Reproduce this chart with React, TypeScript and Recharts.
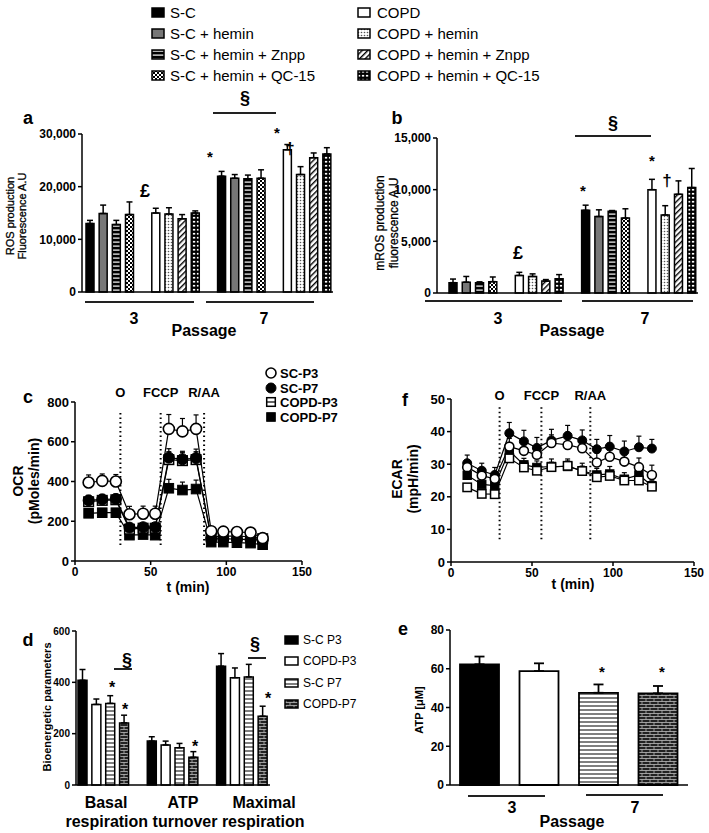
import React from 'react'
import {
    Bar,
    BarChart,
    Cell,
    ErrorBar,
    Line,
    LineChart,
    ReferenceLine,
    XAxis,
    YAxis,
} from 'recharts'

const FONT = "'Liberation Sans', Arial, Helvetica, sans-serif"

// ---------- panels a / b : ROS and mROS per treatment ----------
const treatments = [
    'S-C',
    'S-C + hemin',
    'S-C + hemin + Znpp',
    'S-C + hemin + QC-15',
    'COPD',
    'COPD + hemin',
    'COPD + hemin + Znpp',
    'COPD + hemin + QC-15',
]
const treatmentFill = [
    '#000',
    '#777',
    'url(#pScZnpp)',
    'url(#pScQc)',
    '#fff',
    'url(#pCopdHemin)',
    'url(#pCopdZnpp)',
    'url(#pCopdQc)',
]

const rosP3 = [13000, 14900, 12800, 14700, 15000, 14800, 13900, 15000]
const rosP3Err = [600, 1600, 800, 2400, 900, 1200, 800, 400]
const rosP7 = [22000, 21600, 21500, 21600, 27000, 22300, 25500, 26200]
const rosP7Err = [900, 700, 700, 1600, 1000, 1500, 900, 1200]

const mrosP3 = [1000, 1050, 1000, 1100, 1700, 1600, 1150, 1380]
const mrosP3Err = [350, 550, 80, 450, 300, 250, 150, 400]
const mrosP7 = [8000, 7400, 7900, 7250, 10000, 7550, 9550, 10200]
const mrosP7Err = [500, 650, 80, 900, 1000, 900, 1300, 1850]

// ---------- panels c / f : Seahorse traces ----------
const tOcr = [9, 18, 27, 36, 45, 53, 62, 71, 80, 90, 98, 107, 116, 124]
const ocrScP3 = [395, 403, 400, 235, 238, 238, 665, 652, 665, 150, 148, 146, 143, 115]
const ocrScP3Err = [38, 35, 35, 40, 38, 38, 72, 65, 70, 12, 10, 10, 10, 10]
const ocrScP7 = [305, 310, 312, 168, 170, 170, 520, 512, 518, 112, 112, 110, 108, 105]
const ocrScP7Err = [25, 25, 25, 15, 15, 15, 45, 40, 45, 10, 10, 10, 10, 10]
const ocrCopdP3 = [298, 305, 308, 160, 165, 165, 510, 505, 510, 122, 125, 125, 122, 112]
const ocrCopdP3Err = [20, 20, 20, 12, 12, 12, 40, 40, 40, 10, 10, 10, 10, 10]
const ocrCopdP7 = [240, 243, 243, 130, 133, 130, 366, 357, 362, 95, 95, 92, 90, 82]
const ocrCopdP7Err = [15, 15, 15, 12, 12, 12, 45, 40, 45, 8, 8, 8, 8, 8]

const tEcar = [10, 19, 27, 36, 45, 53, 62, 72, 81, 90, 98, 107, 116, 124]
const ecarScP7 = [30.3, 28, 26.7, 39.5, 37, 35, 37.3, 38.7, 37.3, 34.6, 35.4, 33.9, 35.2, 34.8]
const ecarScP7Err = [2.5, 2.3, 2.3, 3.3, 3.4, 3.2, 3.4, 3.2, 3.2, 3, 3.4, 3.2, 3.4, 2.8]
const ecarScP3 = [29.1, 26.5, 25.5, 35.4, 34.1, 32.9, 36.5, 35.9, 34.9, 30.5, 32.3, 30.8, 29.1, 26.7]
const ecarScP3Err = [2, 2, 2, 2.5, 2.5, 2.5, 2.5, 2.5, 2.5, 3, 3, 3, 2.8, 3]
const ecarCopdP7 = [26.6, 23.8, 23.4, 34.1, 29.8, 29.0, 29.3, 29.3, 28.0, 26.7, 27.0, 25.4, 26.7, 23.4]
const ecarCopdP7Err = [2, 2, 2, 2, 2, 2, 2.3, 2.3, 2.3, 2, 2.3, 2, 2, 1.5]
const ecarCopdP3 = [22.9, 20.9, 20.8, 31.8, 29.0, 28.0, 29.1, 29.5, 27.9, 26.0, 26.4, 25.0, 25.0, 23.1]
const ecarCopdP3Err = [1, 1, 1, 1.5, 1.5, 1.5, 1.5, 1.5, 1.5, 1.5, 1.5, 1.5, 1.5, 1]

// ---------- panel d : bioenergetic parameters ----------
const params = ['Basal respiration', 'ATP turnover', 'Maximal respiration']
const cellGroups = ['S-C P3', 'COPD-P3', 'S-C P7', 'COPD-P7']
const groupFill = ['#000', '#fff', 'url(#pHStripe)', 'url(#pBrick)']
const bioScP3 = [408, 171, 463]
const bioScP3Err = [42, 17, 49]
const bioCopdP3 = [314, 156, 418]
const bioCopdP3Err = [21, 15, 38]
const bioScP7 = [318, 145, 421]
const bioScP7Err = [30, 17, 49]
const bioCopdP7 = [242, 108, 268]
const bioCopdP7Err = [30, 22, 39]

// ---------- panel e : ATP ----------
const atp = [62.3, 58.8, 47.6, 47.3]
const atpErr = [4, 4, 4.3, 3.8]

// ---------- tables ----------
type SlotRow = { slot: string; g: number; v: number | null; e: number[] }

function rosRows(p3: number[], p3e: number[], p7: number[], p7e: number[]): SlotRow[] {
    const rows: SlotRow[] = []
    const add = (vals: number[], errs: number[], from: number, passage: number) => {
        for (let i = from; i < from + 4; i++) {
            rows.push({ slot: `P${passage} ${treatments[i]}`, g: i, v: vals[i], e: [0, errs[i]] })
        }
    }
    const gap = (n: number) => rows.push({ slot: `gap${n}`, g: -1, v: null, e: [0, 0] })
    add(p3, p3e, 0, 3)
    gap(1)
    add(p3, p3e, 4, 3)
    gap(2)
    add(p7, p7e, 0, 7)
    gap(3)
    add(p7, p7e, 4, 7)
    return rows
}

const rowsA = rosRows(rosP3, rosP3Err, rosP7, rosP7Err)
const rowsB = rosRows(mrosP3, mrosP3Err, mrosP7, mrosP7Err)

const ocrRows = tOcr.map((t, i) => ({
    t,
    scP3: ocrScP3[i], scP3e: [0, ocrScP3Err[i]],
    scP7: ocrScP7[i], scP7e: [0, ocrScP7Err[i]],
    copdP3: ocrCopdP3[i], copdP3e: [0, ocrCopdP3Err[i]],
    copdP7: ocrCopdP7[i], copdP7e: [0, ocrCopdP7Err[i]],
}))

const ecarRows = tEcar.map((t, i) => ({
    t,
    scP3: ecarScP3[i], scP3e: [0, ecarScP3Err[i]],
    scP7: ecarScP7[i], scP7e: [0, ecarScP7Err[i]],
    copdP3: ecarCopdP3[i], copdP3e: [0, ecarCopdP3Err[i]],
    copdP7: ecarCopdP7[i], copdP7e: [0, ecarCopdP7Err[i]],
}))

const bioSeries = [
    [bioScP3, bioScP3Err],
    [bioCopdP3, bioCopdP3Err],
    [bioScP7, bioScP7Err],
    [bioCopdP7, bioCopdP7Err],
]
const bioRows: SlotRow[] = []
params.forEach((p, pi) => {
    if (pi > 0) bioRows.push({ slot: `gap${pi}`, g: -1, v: null, e: [0, 0] })
    bioSeries.forEach(([vals, errs], gi) => {
        bioRows.push({ slot: `${p} ${cellGroups[gi]}`, g: gi, v: vals[pi], e: [0, errs[pi]] })
    })
})

const atpRows = cellGroups.map((c, i) => ({ slot: c, g: i, v: atp[i], e: [0, atpErr[i]] }))

// ---------- helpers ----------
const axisStyle = { stroke: '#000', strokeWidth: 1.5 }

function Txt({ x, y, size = 12, bold = false, anchor = 'middle', children }: any) {
    const tx = anchor === 'middle' ? '-50%' : anchor === 'end' ? '-100%' : '0'
    return (
        <div
            style={{
                position: 'absolute',
                left: x,
                top: y,
                transform: `translate(${tx},-50%)`,
                fontSize: size,
                fontWeight: bold ? 700 : 400,
                whiteSpace: 'nowrap',
                lineHeight: 1,
            }}
        >
            {children}
        </div>
    )
}

// rotated axis titles drawn as svg text
function VTxt({ x, y, lines, size = 12, bold = false, gap = 1.15 }: any) {
    const n = lines.length
    return (
        <svg width={80} height={240} style={{ position: 'absolute', left: x - 40, top: y - 120, overflow: 'visible' }}>
            <text
                transform="translate(40,120) rotate(-90)"
                textAnchor="middle"
                fontSize={size}
                fontWeight={bold ? 700 : 400}
                fill="#000"
                stroke="#000"
                strokeWidth={bold ? 0 : 0.3}
            >
                {lines.map((l: string, i: number) => (
                    <tspan key={l} x={0} y={(i - (n - 1) / 2) * size * gap + size * 0.35}>
                        {l}
                    </tspan>
                ))}
            </text>
        </svg>
    )
}

function HLine({ x1, x2, y, w = 1.5 }: any) {
    return (
        <div style={{ position: 'absolute', left: x1, top: y - w / 2, width: x2 - x1, height: w, background: '#222' }} />
    )
}

function Swatch({ fill, w = 12, h = 9 }: any) {
    return (
        <svg width={w + 2} height={h + 2} style={{ display: 'block' }}>
            <rect x={1} y={1} width={w} height={h} fill={fill} stroke="#000" strokeWidth={1.5} />
        </svg>
    )
}

function Marker({ kind, cx, cy, r = 4.5 }: any) {
    if (kind === 'openCircle')
        return <circle cx={cx} cy={cy} r={r} fill="#fff" stroke="#000" strokeWidth={1.6} />
    if (kind === 'filledCircle') return <circle cx={cx} cy={cy} r={r} fill="#000" stroke="#000" strokeWidth={1} />
    if (kind === 'filledSquare')
        return <rect x={cx - r} y={cy - r} width={2 * r} height={2 * r} fill="#000" stroke="#000" strokeWidth={1} />
    if (kind === 'lineSquare')
        return (
            <g>
                <rect x={cx - r} y={cy - r} width={2 * r} height={2 * r} fill="#fff" stroke="#000" strokeWidth={1.5} />
                <line x1={cx - r} x2={cx + r} y1={cy} y2={cy} stroke="#000" strokeWidth={1.2} />
            </g>
        )
    return <rect x={cx - r} y={cy - r} width={2 * r} height={2 * r} fill="#fff" stroke="#000" strokeWidth={1.5} />
}

const dotOf = (kind: string, r = 4.5) => (p: any) => {
    const key = `${kind}-${p.index}`
    if (p.cx == null || p.cy == null) return <g key={key} />
    return (
        <g key={key}>
            <Marker kind={kind} cx={p.cx} cy={p.cy} r={r} />
        </g>
    )
}

function Patterns() {
    return (
        <svg width={0} height={0} style={{ position: 'absolute' }}>
            <defs>
                <pattern id="pScZnpp" width={4} height={4} patternUnits="userSpaceOnUse">
                    <rect width={4} height={4} fill="#000" />
                    <rect y={1.5} width={4} height={1.2} fill="#fff" />
                </pattern>
                <pattern id="pScQc" width={4} height={4} patternUnits="userSpaceOnUse">
                    <rect width={4} height={4} fill="#fff" />
                    <rect width={2} height={2} fill="#000" />
                    <rect x={2} y={2} width={2} height={2} fill="#000" />
                </pattern>
                <pattern id="pCopdHemin" width={3} height={3} patternUnits="userSpaceOnUse">
                    <rect width={3} height={3} fill="#fff" />
                    <circle cx={1.5} cy={1.5} r={0.8} fill="#555" />
                </pattern>
                <pattern id="pCopdZnpp" width={4} height={4} patternUnits="userSpaceOnUse" patternTransform="rotate(45)">
                    <rect width={4} height={4} fill="#fff" />
                    <rect width={1.4} height={4} fill="#000" />
                </pattern>
                <pattern id="pCopdQc" width={4} height={4} patternUnits="userSpaceOnUse">
                    <rect width={4} height={4} fill="#000" />
                    <rect x={0.9} y={0.9} width={2.3} height={1.7} fill="#fff" />
                </pattern>
                <pattern id="pHStripe" width={4} height={4} patternUnits="userSpaceOnUse">
                    <rect width={4} height={4} fill="#fff" />
                    <rect y={1.5} width={4} height={1} fill="#000" />
                </pattern>
                <pattern id="pBrick" width={8} height={6} patternUnits="userSpaceOnUse">
                    <rect width={8} height={6} fill="#222" />
                    <path d="M0 0.5H8 M0 3.5H8 M2 0.5V3.5 M6 3.5V6" stroke="#bbb" strokeWidth={0.8} fill="none" />
                </pattern>
            </defs>
        </svg>
    )
}

function RosChart({ rows, max, ticks, left, top, width, height, padLeft }: any) {
    return (
        <div style={{ position: 'absolute', left, top }}>
            <BarChart
                width={width}
                height={height}
                data={rows}
                margin={{ top: 10, right: 5, left: 0, bottom: 8 }}
                barCategoryGap={0}
            >
                <XAxis
                    dataKey="slot"
                    tick={false}
                    tickLine={false}
                    axisLine={axisStyle}
                    height={2}
                    interval={0}
                    padding={{ left: padLeft, right: 0 }}
                />
                <YAxis
                    domain={[0, max]}
                    ticks={ticks}
                    width={50}
                    tickSize={4}
                    interval={0}
                    tickFormatter={(v: number) => v.toLocaleString('en-US')}
                    tick={{ fill: '#000', fontSize: 12, fontWeight: 700 }}
                    axisLine={axisStyle}
                    tickLine={axisStyle}
                />
                <Bar dataKey="v" barSize={8} stroke="#000" strokeWidth={1.5} isAnimationActive={false}>
                    {rows.map((r: SlotRow) => (
                        <Cell key={r.slot} fill={r.g >= 0 ? treatmentFill[r.g] : 'none'} />
                    ))}
                    <ErrorBar dataKey="e" width={3} stroke="#000" strokeWidth={1.5} direction="y" />
                </Bar>
            </BarChart>
        </div>
    )
}

function TraceChart({ rows, left, top, width, height, yMax, yTicks, segs, kinds, yWidth, circleR, squareR, labelOffset }: any) {
    const order = ['copdP7', 'copdP3', 'scP7', 'scP3']
    return (
        <div style={{ position: 'absolute', left, top }}>
            <LineChart width={width} height={height} data={rows} margin={{ top: 30, right: 10, left: 0, bottom: 0 }}>
                <XAxis
                    dataKey="t"
                    type="number"
                    domain={[0, 150]}
                    ticks={[0, 50, 100, 150]}
                    tickSize={4}
                    height={25}
                    tick={{ fill: '#000', fontSize: 12, fontWeight: 700 }}
                    axisLine={axisStyle}
                    tickLine={axisStyle}
                />
                <YAxis
                    domain={[0, yMax]}
                    ticks={yTicks}
                    width={yWidth}
                    tickSize={4}
                    interval={0}
                    tick={{ fill: '#000', fontSize: 13, fontWeight: 700 }}
                    axisLine={axisStyle}
                    tickLine={axisStyle}
                />
                {segs.map((s: any) => (
                    <ReferenceLine
                        key={s.label}
                        segment={[{ x: s.t, y: s.y0 }, { x: s.t, y: s.y1 }]}
                        stroke="#000"
                        strokeWidth={2}
                        strokeDasharray="1.5 3"
                        label={{ value: s.label, position: 'top', offset: labelOffset, fill: '#000', fontSize: 13, fontWeight: 700 }}
                    />
                ))}
                {order.map(k => (
                    <Line
                        key={k}
                        dataKey={k}
                        stroke="#000"
                        strokeWidth={1.2}
                        dot={dotOf(kinds[k], kinds[k].includes('Circle') ? circleR : squareR)}
                        activeDot={false}
                        isAnimationActive={false}
                    >
                        <ErrorBar dataKey={`${k}e`} width={2.5} stroke="#000" strokeWidth={1.2} direction="y" />
                    </Line>
                ))}
            </LineChart>
        </div>
    )
}

const topLegendRows = [0, 1, 2, 3]

export default function App() {
    return (
        <div
            style={{
                position: 'absolute',
                left: 0,
                top: 0,
                width: 709,
                height: 833,
                background: '#fff',
                fontFamily: FONT,
                color: '#000',
                overflow: 'hidden',
            }}
        >
            <Patterns />

            {/* top legend */}
            {topLegendRows.map(i => (
                <React.Fragment key={i}>
                    <div style={{ position: 'absolute', left: 151, top: 7 + i * 21 }}>
                        <Swatch fill={treatmentFill[i]} />
                    </div>
                    <Txt x={170} y={12 + i * 21} size={15} anchor="start">
                        {treatments[i]}
                    </Txt>
                    <div style={{ position: 'absolute', left: 357, top: 7 + i * 21 }}>
                        <Swatch fill={treatmentFill[i + 4]} />
                    </div>
                    <Txt x={377} y={12 + i * 21} size={15} anchor="start">
                        {treatments[i + 4]}
                    </Txt>
                </React.Fragment>
            ))}

            {/* panel a */}
            <Txt x={28} y={118} size={18} bold>a</Txt>
            <VTxt x={16} y={216} lines={['ROS production', 'Fluorescence A.U']} size={11} />
            <RosChart rows={rowsA} max={30000} ticks={[0, 10000, 20000, 30000]} left={32} top={124} width={306} height={178} padLeft={1} />
            <Txt x={145} y={191} size={18} bold>£</Txt>
            <Txt x={210} y={156} size={15} bold>*</Txt>
            <Txt x={277} y={132} size={15} bold>*</Txt>
            <Txt x={290} y={148} size={17} bold>†</Txt>
            <Txt x={245} y={98} size={18} bold>§</Txt>
            <HLine x1={213} x2={276} y={113} />
            <HLine x1={85} x2={194} y={302} />
            <HLine x1={206} x2={314} y={302} />
            <Txt x={134} y={319} size={16} bold>3</Txt>
            <Txt x={264} y={319} size={16} bold>7</Txt>
            <Txt x={204} y={331} size={16} bold>Passage</Txt>

            {/* panel b */}
            <Txt x={397} y={118} size={18} bold>b</Txt>
            <VTxt x={387} y={223} lines={['mROS production', 'fluorescence A.U']} size={12} />
            <RosChart rows={rowsB} max={15000} ticks={[0, 5000, 10000, 15000]} left={387} top={128} width={316} height={175} padLeft={9} />
            <Txt x={518} y={253} size={18} bold>£</Txt>
            <Txt x={583} y={190} size={15} bold>*</Txt>
            <Txt x={652} y={160} size={15} bold>*</Txt>
            <Txt x={667} y={180} size={17} bold>†</Txt>
            <Txt x={613} y={123} size={18} bold>§</Txt>
            <HLine x1={575} x2={651} y={136} />
            <HLine x1={425} x2={562} y={301} />
            <HLine x1={582} x2={693} y={301} />
            <Txt x={498} y={319} size={16} bold>3</Txt>
            <Txt x={645} y={319} size={16} bold>7</Txt>
            <Txt x={572} y={331} size={16} bold>Passage</Txt>

            {/* panel c */}
            <Txt x={28} y={397} size={18} bold>c</Txt>
            <VTxt x={26} y={481} lines={['OCR', '(pMoles/min)']} size={14} bold />
            <TraceChart
                rows={ocrRows}
                left={35}
                top={372}
                width={277}
                height={214}
                yMax={800}
                yTicks={[0, 200, 400, 600, 800]}
                yWidth={40}
                circleR={5.5}
                squareR={4.8}
                labelOffset={15}
                segs={[
                    { t: 30, y0: 80, y1: 750, label: 'O' },
                    { t: 56.6, y0: 80, y1: 750, label: 'FCCP' },
                    { t: 85.3, y0: 80, y1: 750, label: 'R/AA' },
                ]}
                kinds={{ scP3: 'openCircle', scP7: 'filledCircle', copdP3: 'lineSquare', copdP7: 'filledSquare' }}
            />
            <Txt x={188} y={587} size={14} bold>t (min)</Txt>
            {[
                ['SC-P3', 'openCircle'],
                ['SC-P7', 'filledCircle'],
                ['COPD-P3', 'lineSquare'],
                ['COPD-P7', 'filledSquare'],
            ].map(([name, kind], i) => (
                <React.Fragment key={name}>
                    <svg width={14} height={14} style={{ position: 'absolute', left: 264, top: 366 + i * 14.5 }}>
                        <Marker kind={kind} cx={7} cy={7} r={kind.includes('Circle') ? 5 : 4.3} />
                    </svg>
                    <Txt x={280} y={373 + i * 14.5} size={13} bold anchor="start">{name}</Txt>
                </React.Fragment>
            ))}

            {/* panel f */}
            <Txt x={405} y={400} size={18} bold>f</Txt>
            <VTxt x={405} y={479} lines={['ECAR', '(mpH/min)']} size={14} bold />
            <TraceChart
                rows={ecarRows}
                left={411}
                top={369}
                width={293}
                height={218}
                yMax={50}
                yTicks={[0, 10, 20, 30, 40, 50]}
                yWidth={40}
                circleR={4.5}
                squareR={4.2}
                labelOffset={6}
                segs={[
                    { t: 30, y0: 7, y1: 48, label: 'O' },
                    { t: 55.8, y0: 7, y1: 48, label: 'FCCP' },
                    { t: 86, y0: 7, y1: 48, label: 'R/AA' },
                ]}
                kinds={{ scP3: 'openCircle', scP7: 'filledCircle', copdP3: 'openSquare', copdP7: 'filledSquare' }}
            />
            <Txt x={573} y={584} size={14} bold>t (min)</Txt>

            {/* panel d */}
            <Txt x={28} y={640} size={18} bold>d</Txt>
            <VTxt x={47} y={707} lines={['Bioenergetic parameters']} size={11} bold />
            <div style={{ position: 'absolute', left: 46, top: 621 }}>
                <BarChart width={229} height={174} data={bioRows} margin={{ top: 10, right: 5, left: 0, bottom: 8 }} barCategoryGap={0}>
                    <XAxis dataKey="slot" tick={false} tickLine={false} axisLine={axisStyle} height={2} interval={0} />
                    <YAxis
                        domain={[0, 600]}
                        ticks={[0, 200, 400, 600]}
                        width={30}
                        tickSize={4}
                        interval={0}
                        tick={{ fill: '#000', fontSize: 10, fontWeight: 700 }}
                        axisLine={axisStyle}
                        tickLine={axisStyle}
                    />
                    <Bar dataKey="v" barSize={9} stroke="#000" strokeWidth={1.5} isAnimationActive={false}>
                        {bioRows.map(r => (
                            <Cell key={r.slot} fill={r.g >= 0 ? groupFill[r.g] : 'none'} />
                        ))}
                        <ErrorBar dataKey="e" width={3} stroke="#000" strokeWidth={1.5} direction="y" />
                    </Bar>
                </BarChart>
            </div>
            <Txt x={112} y={688} size={16} bold>*</Txt>
            <Txt x={125} y={710} size={16} bold>*</Txt>
            <Txt x={195} y={747} size={16} bold>*</Txt>
            <Txt x={268} y={699} size={16} bold>*</Txt>
            <Txt x={127} y={660} size={18} bold>§</Txt>
            <HLine x1={114} x2={132} y={669} />
            <Txt x={255} y={644} size={18} bold>§</Txt>
            <HLine x1={248} x2={266} y={658} />
            {params.map((p, i) => (
                <Txt key={p} x={[106, 183, 264][i]} y={803} size={16} bold>
                    {p.split(' ')[0]}
                </Txt>
            ))}
            <Txt x={185} y={822} size={16} bold>
                {params.map(p => p.split(' ')[1]).join(' ')}
            </Txt>
            {cellGroups.map((g, i) => (
                <React.Fragment key={g}>
                    <div style={{ position: 'absolute', left: 284, top: 635 + i * 21.3 }}>
                        <Swatch fill={groupFill[i]} w={13} h={8} />
                    </div>
                    <Txt x={303} y={640 + i * 21.3} size={12} anchor="start">{g}</Txt>
                </React.Fragment>
            ))}

            {/* panel e */}
            <Txt x={403} y={629} size={18} bold>e</Txt>
            <VTxt x={419} y={710} lines={['ATP [μM]']} size={11} bold />
            <div style={{ position: 'absolute', left: 420, top: 620 }}>
                <BarChart width={273} height={175} data={atpRows} margin={{ top: 10, right: 5, left: 0, bottom: 8 }}>
                    <XAxis dataKey="slot" tick={false} tickLine={false} axisLine={axisStyle} height={2} interval={0} />
                    <YAxis
                        domain={[0, 80]}
                        ticks={[0, 20, 40, 60, 80]}
                        width={30}
                        tickSize={4}
                        interval={0}
                        tick={{ fill: '#000', fontSize: 12, fontWeight: 700 }}
                        axisLine={axisStyle}
                        tickLine={axisStyle}
                    />
                    <Bar dataKey="v" barSize={39} stroke="#000" strokeWidth={1.8} isAnimationActive={false}>
                        {atpRows.map(r => (
                            <Cell key={r.slot} fill={groupFill[r.g]} />
                        ))}
                        <ErrorBar dataKey="e" width={5} stroke="#000" strokeWidth={1.8} direction="y" />
                    </Bar>
                </BarChart>
            </div>
            <Txt x={602} y={671} size={15} bold>*</Txt>
            <Txt x={662} y={671} size={15} bold>*</Txt>
            <HLine x1={468} x2={545} y={796} />
            <HLine x1={586} x2={663} y={795} />
            <Txt x={512} y={808} size={16} bold>3</Txt>
            <Txt x={635} y={808} size={16} bold>7</Txt>
            <Txt x={572} y={822} size={16} bold>Passage</Txt>
        </div>
    )
}
